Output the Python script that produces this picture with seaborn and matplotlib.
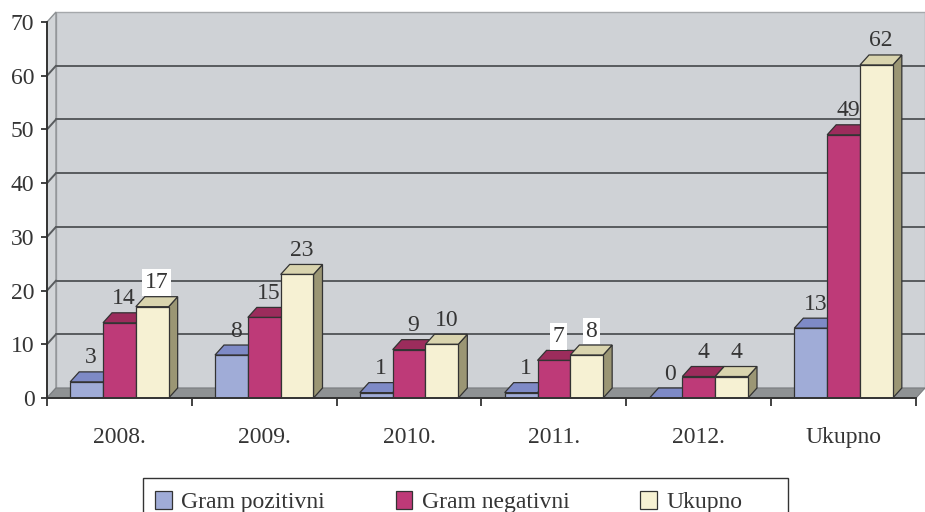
import matplotlib
matplotlib.use('Agg')
import matplotlib.pyplot as plt
from matplotlib.patches import Polygon, Patch, Rectangle
import pandas as pd
import seaborn as sns

categories = ['2008.', '2009.', '2010.', '2011.', '2012.', 'Ukupno']
series = ['Gram pozitivni', 'Gram negativni', 'Ukupno']
gram_pozitivni = [3, 8, 1, 1, 0, 13]
gram_negativni = [14, 15, 9, 7, 4, 49]
ukupno = [17, 23, 10, 8, 4, 62]
y_ticks = [0, 10, 20, 30, 40, 50, 60, 70]

df = pd.DataFrame({
    'Godina': categories * 3,
    'Serija': [s for s in series for _ in categories],
    'Broj': gram_pozitivni + gram_negativni + ukupno,
})

# colours of the three faces of each 3D bar
front = {'Gram pozitivni': '#A0ACD7', 'Gram negativni': '#BE3A78', 'Ukupno': '#F6F1D3'}
top = {'Gram pozitivni': '#7E8AC6', 'Gram negativni': '#9C2C5C', 'Ukupno': '#D9D4AE'}
side = {'Gram pozitivni': '#6E79AE', 'Gram negativni': '#8A2550', 'Ukupno': '#9B9674'}
# labels that Excel drew on a white box
boxed = {('2008.', 'Ukupno'), ('2011.', 'Gram negativni'), ('2011.', 'Ukupno')}

TXT = '#353535'
EDGE = '#333333'
FS = 17

sns.set_style('white')
plt.rcParams['font.family'] = ['Liberation Serif', 'DejaVu Serif']

W, H = 925, 512
fig = plt.figure(figsize=(W / 100, H / 100), dpi=100)
ax_l, ax_b, ax_w, ax_h = 47, 114, 869, 376
ax = fig.add_axes([ax_l / W, ax_b / H, ax_w / W, ax_h / H])
ax.set_facecolor('none')

sns.barplot(data=df, x='Godina', y='Broj', hue='Serija', order=categories,
            hue_order=series, palette=front, width=0.68, edgecolor=EDGE,
            linewidth=0.9, saturation=1, legend=False, ax=ax)
ax.set_xlim(-0.5, len(categories) - 0.5)
ax.set_ylim(y_ticks[0], y_ticks[-1])
x0, x1 = ax.get_xlim()
y0, y1 = ax.get_ylim()

# depth of the 3D effect, pixels -> data units
dx = 9 / (ax_w / (x1 - x0))
dy = 10 / (ax_h / (y1 - y0))

# walls and floor
ax.add_patch(Polygon([(x0 + dx, y0 + dy), (x1 + dx, y0 + dy), (x1 + dx, y1 + dy), (x0 + dx, y1 + dy)],
                     closed=True, facecolor='#CFD2D6', edgecolor='#A5A8AB', lw=1,
                     zorder=0, clip_on=False))
ax.add_patch(Polygon([(x0, y0), (x0 + dx, y0 + dy), (x0 + dx, y1 + dy), (x0, y1)],
                     closed=True, facecolor='#D2D5D8', edgecolor='#8E9194', lw=1,
                     zorder=0.5, clip_on=False))
ax.add_patch(Polygon([(x0, y0), (x1, y0), (x1 + dx, y0 + dy), (x0 + dx, y0 + dy)],
                     closed=True, facecolor='#8F9294', edgecolor='#7A7D80', lw=0.8,
                     zorder=0.6, clip_on=False))
for v in y_ticks[1:-1]:
    ax.plot([x0 + dx, x1 + dx], [v + dy, v + dy], color='#585B5E', lw=1.4, zorder=0.7, clip_on=False)
    ax.plot([x0, x0 + dx], [v, v + dy], color='#585B5E', lw=1.4, zorder=0.7, clip_on=False)

# 3D faces and value labels
for i, (s, cont) in enumerate(zip(series, ax.containers)):
    base = 3 + 3 * i
    for cat, p in zip(categories, cont.patches):
        bx, bw, bh = p.get_x(), p.get_width(), p.get_height()
        p.set_zorder(base + 2)
        ax.add_patch(Polygon([(bx + bw, 0), (bx + bw + dx, dy), (bx + bw + dx, bh + dy), (bx + bw, bh)],
                             closed=True, facecolor=side[s], edgecolor=EDGE, lw=0.9,
                             zorder=base, clip_on=False))
        ax.add_patch(Polygon([(bx, bh), (bx + bw, bh), (bx + bw + dx, bh + dy), (bx + dx, bh + dy)],
                             closed=True, facecolor=top[s], edgecolor=EDGE, lw=0.9,
                             zorder=base + 1, clip_on=False))
        bbox = dict(facecolor='white', edgecolor='none', pad=2) if (cat, s) in boxed else None
        ax.text(bx + bw / 2 + dx / 2, bh + dy + 14 / (ax_h / (y1 - y0)), f'{bh:.0f}',
                ha='center', va='center', fontsize=FS, color=TXT, bbox=bbox, zorder=20)

# axes styling
for sp in ['top', 'right']:
    ax.spines[sp].set_visible(False)
for sp in ['left', 'bottom']:
    ax.spines[sp].set_color(EDGE)
    ax.spines[sp].set_linewidth(1.4)
    ax.spines[sp].set_zorder(15)
ax.set_yticks(y_ticks)
ax.set_yticklabels([str(v) for v in y_ticks])
ax.tick_params(axis='y', direction='out', length=4, width=1.3, color=EDGE,
               labelsize=FS, labelcolor=TXT, pad=5, left=True)
ax.set_xticks([x0 + k for k in range(len(categories) + 1)])
ax.set_xticklabels([])
ax.set_xticks(range(len(categories)), minor=True)
ax.set_xticklabels(categories, minor=True)
ax.tick_params(axis='x', which='major', direction='out', length=6, width=1.3, color=EDGE, bottom=True)
ax.tick_params(axis='x', which='minor', length=0, labelsize=FS, labelcolor=TXT, pad=21)
ax.set_xlabel('')
ax.set_ylabel('')

# legend
handles = [Patch(facecolor=front[s], edgecolor=EDGE, lw=0.9) for s in series]
fig.legend(handles, series, loc='upper left', bbox_to_anchor=(141 / W, 1 - 477 / H),
           ncol=3, frameon=False, fontsize=FS, labelcolor=TXT, handlelength=0.7,
           handleheight=0.8, handletextpad=0.4, columnspacing=3.0, borderpad=0.1)
fig.patches.append(Rectangle((143 / W, -0.05), (788 - 143) / W, (512 - 478) / H + 0.05,
                             transform=fig.transFigure, facecolor='white',
                             edgecolor=EDGE, lw=1, zorder=-1))

fig.savefig('out.png', dpi=100, facecolor='white')
